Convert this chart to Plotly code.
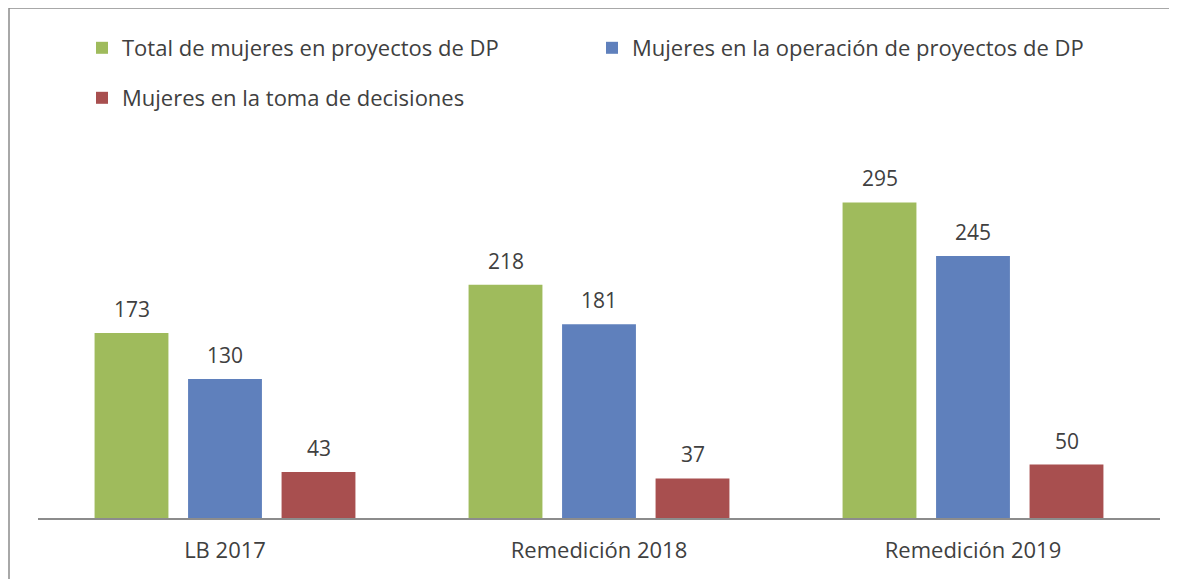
import plotly.graph_objects as go

categories = ["LB 2017", "Remedición 2018", "Remedición 2019"]
series_names = [
    "Total de mujeres en proyectos de DP",
    "Mujeres en la operación de proyectos de DP",
    "Mujeres en la toma de decisiones",
]
total_mujeres = [173, 218, 295]
operacion = [130, 181, 245]
toma_decisiones = [43, 37, 50]

colors = ["#9FBB5C", "#5F80BC", "#A84F4F"]
series_values = [total_mujeres, operacion, toma_decisiones]
legends = ["legend", "legend", "legend2"]

OFF = 8  # page body margin
W, H = 1177 - OFF, 579 - OFF
ml, mr, mt, mb = 38 - OFF, 17, 150 - OFF, 61
plot_w = W - ml - mr
plot_h = H - mt - mb
bargap = 0.25
bargroupgap = 0.21
ymax = 344

FONT = "Open Sans"
TXT = "#404040"
FS = 22
FS_NUM = 21

fig = go.Figure()
for name, vals, col, lg in zip(series_names, series_values, colors, legends):
    fig.add_trace(go.Bar(
        x=categories, y=vals, name=name, marker_color=col,
        marker_line_width=0, legend=lg,
    ))

cat_px = plot_w / len(categories)
slot_px = cat_px * (1 - bargap) / len(series_values)
annotations = []
for i, vals in enumerate(series_values):
    for c, v in zip(categories, vals):
        annotations.append(dict(
            x=c, y=v, xref="x", yref="y", text=str(v), showarrow=False,
            xshift=(i - 1) * slot_px, yshift=24, yanchor="middle",
            font=dict(family=FONT, size=FS_NUM, color=TXT),
        ))

def px_to_paper_x(px):
    return (px - OFF - ml) / plot_w

def px_to_paper_y(py):
    return (H - mb - (py - OFF)) / plot_h

fig.update_layout(
    width=W, height=H,
    margin=dict(l=ml, r=mr, t=mt, b=mb),
    paper_bgcolor="white", plot_bgcolor="white",
    barmode="group", bargap=bargap, bargroupgap=bargroupgap,
    font=dict(family=FONT, size=FS, color=TXT),
    showlegend=True,
    legend=dict(
        orientation="h", x=px_to_paper_x(82), y=px_to_paper_y(48),
        xanchor="left", yanchor="middle", entrywidth=465,
        font=dict(family=FONT, size=FS, color=TXT), bgcolor="rgba(0,0,0,0)",
    ),
    legend2=dict(
        orientation="h", x=px_to_paper_x(82), y=px_to_paper_y(98),
        xanchor="left", yanchor="middle",
        font=dict(family=FONT, size=FS, color=TXT), bgcolor="rgba(0,0,0,0)",
    ),
    xaxis=dict(
        showline=True, linecolor="#8C8C8C", linewidth=1.5, ticks="",
        showgrid=False, tickfont=dict(family=FONT, size=FS, color=TXT),
        ticklabelstandoff=12,
    ),
    yaxis=dict(visible=False, range=[0, ymax], showgrid=False, zeroline=False),
    annotations=annotations,
    shapes=[dict(
        type="rect", xref="paper", yref="paper",
        x0=px_to_paper_x(9), x1=px_to_paper_x(1190),
        y0=px_to_paper_y(600), y1=px_to_paper_y(8),
        line=dict(color="#8C8C8C", width=1.5), fillcolor="rgba(0,0,0,0)",
        layer="below",
    )],
)

fig.write_html("out.html")
